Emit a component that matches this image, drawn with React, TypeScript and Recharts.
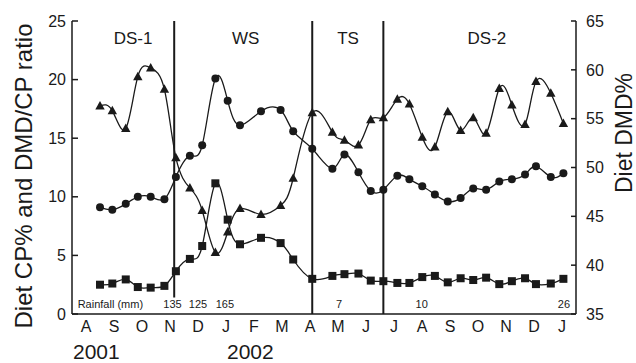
import React from 'react';
import {
  ComposedChart,
  Line,
  XAxis,
  YAxis,
  ReferenceLine,
  ReferenceDot,
} from 'recharts';

// Sampling times, in months since 1 Aug 2001
const sampleMonth = [
  1.0, 1.44, 1.92, 2.35, 2.81, 3.3, 3.71, 4.21, 4.65, 5.12, 5.56, 6.0, 6.75, 7.45, 7.9,
  8.58, 9.3, 9.73, 10.23, 10.67, 11.12, 11.62, 12.05, 12.51, 12.96, 13.42, 13.88, 14.33,
  14.79, 15.26, 15.71, 16.18, 16.57, 17.1, 17.55,
];

// DMD/CP ratio (circles, left axis)
const dmdCpRatio = [
  9.1, 8.9, 9.4, 10.0, 10.0, 9.8, 11.7, 13.5, 14.4, 20.1, 18.2, 16.1, 17.3, 17.4, 15.6,
  14.1, 12.4, 13.6, 12.1, 10.5, 10.6, 11.8, 11.5, 10.9, 10.2, 9.6, 9.9, 10.7, 10.6, 11.3,
  11.5, 11.9, 12.6, 11.7, 12.0,
];

// Diet CP% (squares, left axis)
const dietCp = [
  2.5, 2.6, 2.95, 2.3, 2.25, 2.4, 3.65, 4.7, 5.8, 11.15, 8.05, 5.95, 6.5, 6.05, 4.65, 3.0,
  3.25, 3.4, 3.45, 2.85, 2.8, 2.65, 2.65, 3.15, 3.25, 2.7, 3.05, 2.9, 3.1, 2.55, 2.8, 3.05,
  2.55, 2.6, 3.0,
];

// Diet DMD% (triangles, right axis)
const dietDmd = [
  56.3, 55.8, 54.0, 59.3, 60.2, 58.0, 51.0, 47.9, 45.6, 41.3, 43.4, 45.8, 45.2, 46.1, 48.9,
  55.6, 53.6, 52.8, 52.3, 54.9, 55.1, 57.0, 56.5, 53.1, 52.1, 55.7, 53.8, 55.1, 53.5, 58.1,
  56.4, 54.4, 58.8, 57.6, 54.5,
];

const monthLabels = ['A', 'S', 'O', 'N', 'D', 'J', 'F', 'M', 'A', 'M', 'J', 'J', 'A', 'S', 'O', 'N', 'D', 'J'];
const monthCenters = monthLabels.map((_, i) => i + 0.5);
const monthBounds = [1, 2, 3, 4, 5, 6, 7, 8, 9, 10, 11, 12, 13, 14, 15, 16, 17];

const seasonBoundaries = [3.65, 8.58, 11.12];
const seasonBoundaryBottom = [1.4, 0, 0];
const seasonNames = ['DS-1', 'WS', 'TS', 'DS-2'];
const seasonLabelMonth = [2.18, 6.2, 9.86, 14.82];

const rainMonth = [3.59, 4.5, 5.46, 9.54, 12.49, 17.57];
const rainValue = ['135', '125', '165', '7', '10', '26'];

const leftTicks = [0, 5, 10, 15, 20, 25];
const rightTicks = [35, 40, 45, 50, 55, 60, 65];

const data = sampleMonth.map((m, i) => ({
  m,
  ratio: dmdCpRatio[i],
  cp: dietCp[i],
  dmd: dietDmd[i],
}));

const FONT = 'Liberation Sans, Arial, Helvetica, sans-serif';
const INK = '#1a1a1a';

const CircleDot = (p: any) => (
  <circle key={`c${p.index}`} cx={p.cx} cy={p.cy} r={4} fill={INK} stroke="none" />
);
const SquareDot = (p: any) => (
  <rect key={`s${p.index}`} x={p.cx - 4} y={p.cy - 4} width={8} height={8} fill={INK} stroke="none" />
);
const TriDot = (p: any) => (
  <polygon
    key={`t${p.index}`}
    points={`${p.cx},${p.cy - 5} ${p.cx - 4.7},${p.cy + 3.5} ${p.cx + 4.7},${p.cy + 3.5}`}
    fill={INK}
    stroke="none"
  />
);

export default function App() {
  return (
    <div style={{ position: 'absolute', left: 0, top: 0, width: 636, height: 363, background: '#fff' }}>
      <ComposedChart
        width={636}
        height={363}
        data={data}
        margin={{ top: 21, right: 0, bottom: 0, left: 0 }}
        style={{ fontFamily: FONT }}
      >
        <XAxis
          xAxisId="top"
          orientation="top"
          type="number"
          dataKey="m"
          domain={[0, 18]}
          height={0}
          tick={false}
          tickLine={false}
          axisLine={{ stroke: INK, strokeWidth: 1.5 }}
        />
        <XAxis
          xAxisId="marks"
          orientation="bottom"
          type="number"
          dataKey="m"
          domain={[0, 18]}
          ticks={monthBounds}
          interval={0}
          mirror
          height={0}
          tickSize={5}
          tickFormatter={() => ''}
          axisLine={false}
          tickLine={{ stroke: INK, strokeWidth: 1.5 }}
        />
        <XAxis
          xAxisId="main"
          orientation="bottom"
          type="number"
          dataKey="m"
          domain={[0, 18]}
          ticks={monthCenters}
          interval={0}
          height={49}
          tickSize={0}
          tickMargin={7}
          tickLine={false}
          tickFormatter={(v: number) => monthLabels[Math.floor(v)]}
          tick={{ fontSize: 16, fill: INK, fontFamily: FONT }}
          axisLine={{ stroke: INK, strokeWidth: 1.5 }}
        />
        <YAxis
          yAxisId="left"
          orientation="left"
          type="number"
          domain={[0, 25]}
          ticks={leftTicks}
          interval={0}
          width={72}
          tickSize={-6}
          tickMargin={12}
          tick={{ fontSize: 16, fill: INK, fontFamily: FONT }}
          tickLine={{ stroke: INK, strokeWidth: 1.5 }}
          axisLine={{ stroke: INK, strokeWidth: 1.5 }}
        />
        <YAxis
          yAxisId="right"
          orientation="right"
          type="number"
          domain={[35, 65]}
          ticks={rightTicks}
          interval={0}
          width={60}
          tickSize={-5}
          tickMargin={15}
          tick={{ fontSize: 16, fill: INK, fontFamily: FONT }}
          tickLine={{ stroke: INK, strokeWidth: 1.5 }}
          axisLine={{ stroke: INK, strokeWidth: 1.5 }}
        />

        {seasonBoundaries.map((b, i) => (
          <ReferenceLine
            key={`b${i}`}
            xAxisId="main"
            yAxisId="left"
            segment={[
              { x: b, y: seasonBoundaryBottom[i] },
              { x: b, y: 25 },
            ]}
            stroke={INK}
            strokeWidth={2}
          />
        ))}

        {seasonNames.map((n, i) => (
          <ReferenceDot
            key={`sn${i}`}
            x={seasonLabelMonth[i]}
            y={25}
            xAxisId="main"
            yAxisId="left"
            r={0}
            fill="none"
            stroke="none"
            ifOverflow="visible"
            label={{ value: n, position: 'bottom', offset: 10.5, fontSize: 17, fill: INK, fontFamily: FONT }}
          />
        ))}

        <ReferenceDot
          x={1.37}
          y={0}
          xAxisId="main"
          yAxisId="left"
          r={0}
          fill="none"
          stroke="none"
          ifOverflow="visible"
          label={{ value: 'Rainfall (mm)', position: 'top', offset: 6, fontSize: 11, fill: INK, fontFamily: FONT }}
        />
        {rainMonth.map((m, i) => (
          <ReferenceDot
            key={`r${i}`}
            x={m}
            y={0}
            xAxisId="main"
            yAxisId="left"
            r={0}
            fill="none"
            stroke="none"
            ifOverflow="visible"
            label={{ value: rainValue[i], position: 'top', offset: 6, fontSize: 11, fill: INK, fontFamily: FONT }}
          />
        ))}

        <Line
          xAxisId="main"
          yAxisId="left"
          type="natural"
          dataKey="ratio"
          stroke={INK}
          strokeWidth={1.3}
          dot={CircleDot}
          activeDot={false}
          isAnimationActive={false}
        />
        <Line
          xAxisId="main"
          yAxisId="left"
          type="natural"
          dataKey="cp"
          stroke={INK}
          strokeWidth={1.3}
          dot={SquareDot}
          activeDot={false}
          isAnimationActive={false}
        />
        <Line
          xAxisId="main"
          yAxisId="right"
          type="natural"
          dataKey="dmd"
          stroke={INK}
          strokeWidth={1.3}
          dot={TriDot}
          activeDot={false}
          isAnimationActive={false}
        />
      </ComposedChart>
      <svg
        width={636}
        height={363}
        style={{ position: 'absolute', left: 0, top: 0, pointerEvents: 'none' }}
      >
        <text
          x={23}
          y={176}
          transform="rotate(-90 23 176)"
          textAnchor="middle"
          dominantBaseline="central"
          fontSize={24}
          fill={INK}
          fontFamily={FONT}
        >
          Diet CP% and DMD/CP ratio
        </text>
        <text
          x={624}
          y={133}
          transform="rotate(-90 624 133)"
          textAnchor="middle"
          dominantBaseline="central"
          fontSize={23}
          fill={INK}
          fontFamily={FONT}
        >
          Diet DMD%
        </text>
        <text x={73} y={359} fontSize={21} fill={INK} fontFamily={FONT}>
          2001
        </text>
        <text x={227} y={359} fontSize={21} fill={INK} fontFamily={FONT}>
          2002
        </text>
      </svg>
    </div>
  );
}
